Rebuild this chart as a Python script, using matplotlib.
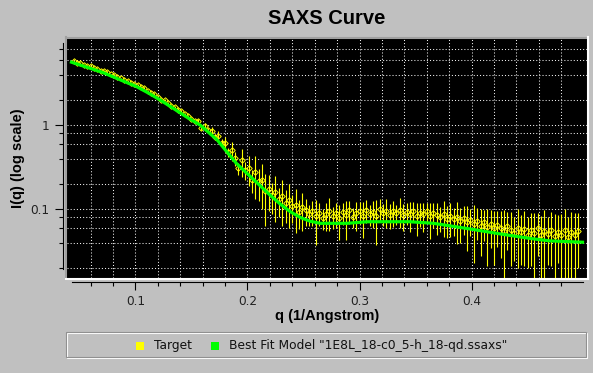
import matplotlib
matplotlib.use("Agg")
import matplotlib.pyplot as plt
from matplotlib.ticker import FixedLocator, NullFormatter, FixedFormatter
from matplotlib.lines import Line2D
from matplotlib.patches import Rectangle

# best fit model curve
fit_q = [0.043, 0.057, 0.071, 0.086, 0.101, 0.112, 0.122, 0.135, 0.147, 0.158,
         0.173, 0.190, 0.205, 0.220, 0.229, 0.238, 0.247, 0.256, 0.265, 0.289,
         0.307, 0.345, 0.366, 0.396, 0.425, 0.452, 0.470, 0.499]
fit_I = [5.62, 4.88, 4.23, 3.49, 2.88, 2.40, 2.00, 1.55, 1.22, 1.00,
         0.668, 0.353, 0.229, 0.148, 0.116, 0.094, 0.080, 0.072, 0.068, 0.068,
         0.071, 0.071, 0.068, 0.059, 0.051, 0.045, 0.042, 0.0405]

# target (experimental) curve
target_q = [
    0.045, 0.048, 0.051, 0.054, 0.057, 0.060, 0.063, 0.066, 0.069, 0.072,
    0.075, 0.078, 0.081, 0.084, 0.087, 0.090, 0.093, 0.096, 0.099, 0.102,
    0.105, 0.108, 0.111, 0.114, 0.117, 0.120, 0.123, 0.126, 0.129, 0.132,
    0.135, 0.138, 0.141, 0.144, 0.147, 0.150, 0.153, 0.156, 0.159, 0.162,
    0.165, 0.168, 0.171, 0.174, 0.177, 0.180, 0.183, 0.186, 0.189, 0.192,
    0.195, 0.198, 0.201, 0.204, 0.207, 0.210, 0.213, 0.216, 0.219, 0.222,
    0.225, 0.228, 0.231, 0.234, 0.237, 0.240, 0.243, 0.246, 0.249, 0.252,
    0.255, 0.258, 0.261, 0.264, 0.267, 0.270, 0.273, 0.276, 0.279, 0.282,
    0.285, 0.288, 0.291, 0.294, 0.297, 0.300, 0.303, 0.306, 0.309, 0.312,
    0.315, 0.318, 0.321, 0.324, 0.327, 0.330, 0.333, 0.336, 0.339, 0.342,
    0.345, 0.348, 0.351, 0.354, 0.357, 0.360, 0.363, 0.366, 0.369, 0.372,
    0.375, 0.378, 0.381, 0.384, 0.387, 0.390, 0.393, 0.396, 0.399, 0.402,
    0.405, 0.408, 0.411, 0.414, 0.417, 0.420, 0.423, 0.426, 0.429, 0.432,
    0.435, 0.438, 0.441, 0.444, 0.447, 0.450, 0.453, 0.456, 0.459, 0.462,
    0.465, 0.468, 0.471, 0.474, 0.477, 0.480, 0.483, 0.486, 0.489, 0.492,
    0.495]
target_I = [
    5.78, 5.56, 5.49, 5.17, 5.12, 5.06, 4.76, 4.72, 4.44, 4.38,
    4.26, 4.01, 3.98, 3.72, 3.61, 3.42, 3.38, 3.22, 3.08, 3.03,
    2.82, 2.75, 2.57, 2.39, 2.33, 2.17, 2.02, 2.00, 1.84, 1.71,
    1.66, 1.53, 1.48, 1.35, 1.29, 1.19, 1.12, 1.12, 0.934, 0.987,
    0.869, 0.856, 0.719, 0.741, 0.621, 0.607, 0.482, 0.500, 0.403, 0.306,
    0.383, 0.295, 0.310, 0.224, 0.281, 0.214, 0.222, 0.163, 0.175, 0.147,
    0.161, 0.131, 0.143, 0.118, 0.130, 0.109, 0.112, 0.0935, 0.105, 0.098,
    0.088, 0.094, 0.083, 0.091, 0.079, 0.087, 0.095, 0.082, 0.090, 0.078,
    0.092, 0.085, 0.097, 0.081, 0.089, 0.094, 0.084, 0.099, 0.088, 0.093,
    0.083, 0.102, 0.090, 0.096, 0.086, 0.094, 0.089, 0.097, 0.085, 0.092,
    0.088, 0.096, 0.084, 0.091, 0.087, 0.094, 0.082, 0.089, 0.085, 0.080,
    0.087, 0.077, 0.083, 0.076, 0.081, 0.072, 0.079, 0.070, 0.075, 0.067,
    0.073, 0.064, 0.070, 0.061, 0.067, 0.059, 0.065, 0.060, 0.055, 0.063,
    0.057, 0.052, 0.060, 0.054, 0.058, 0.050, 0.056, 0.052, 0.059, 0.049,
    0.055, 0.051, 0.057, 0.048, 0.054, 0.050, 0.056, 0.047, 0.053, 0.049,
    0.055]
target_err = [
    0.14, 0.13, 0.13, 0.12, 0.12, 0.12, 0.11, 0.11, 0.10, 0.10,
    0.10, 0.09, 0.09, 0.09, 0.08, 0.08, 0.08, 0.08, 0.07, 0.07,
    0.07, 0.07, 0.06, 0.06, 0.06, 0.06, 0.05, 0.06, 0.05, 0.05,
    0.05, 0.05, 0.05, 0.04, 0.05, 0.04, 0.04, 0.06, 0.05, 0.08,
    0.05, 0.09, 0.06, 0.11, 0.07, 0.12, 0.06, 0.13, 0.08, 0.05,
    0.14, 0.07, 0.12, 0.07, 0.15, 0.09, 0.12, 0.10, 0.08, 0.06,
    0.09, 0.05, 0.08, 0.05, 0.07, 0.04, 0.06, 0.035, 0.05, 0.035,
    0.025, 0.030, 0.045, 0.028, 0.022, 0.032, 0.040, 0.024, 0.030, 0.035,
    0.027, 0.042, 0.030, 0.022, 0.034, 0.028, 0.038, 0.030, 0.024, 0.033,
    0.045, 0.030, 0.026, 0.036, 0.028, 0.032, 0.024, 0.038, 0.030, 0.027,
    0.034, 0.025, 0.036, 0.029, 0.033, 0.026, 0.038, 0.030, 0.035, 0.027,
    0.040, 0.031, 0.036, 0.028, 0.042, 0.032, 0.030, 0.038, 0.027, 0.044,
    0.030, 0.036, 0.028, 0.040, 0.032, 0.037, 0.029, 0.034, 0.043, 0.030,
    0.036, 0.028, 0.040, 0.032, 0.037, 0.030, 0.035, 0.038, 0.031, 0.034,
    0.042, 0.029, 0.036, 0.040, 0.031, 0.037, 0.044, 0.033, 0.039, 0.042,
    0.035]

x_major = [0.1, 0.2, 0.3, 0.4]
x_major_labels = ["0.1", "0.2", "0.3", "0.4"]
x_minor = [0.06, 0.08, 0.12, 0.14, 0.16, 0.18, 0.22, 0.24, 0.26, 0.28,
           0.32, 0.34, 0.36, 0.38, 0.42, 0.44, 0.46, 0.48]
y_major = [0.1, 1]
y_major_labels = ["0.1", "1"]
y_minor = [0.02, 0.04, 0.06, 0.08, 0.2, 0.4, 0.6, 0.8, 2, 4, 6, 8]

W, H = 593, 373
bg = "#c0c0c0"


def fx(x):
    return x / W


def fy(y):
    return 1 - y / H


fig = plt.figure(figsize=(W / 100, H / 100), dpi=100, facecolor=bg)
ax = fig.add_axes([fx(67), fy(278), 520 / W, 240 / H])
ax.set_facecolor("black")

ax.errorbar(target_q, target_I, yerr=target_err, fmt="D", ms=2.8,
            mfc="none", mec="#ffff00", mew=0.7, ecolor="#ffff00",
            elinewidth=0.8, capsize=0, zorder=3)
ax.plot(fit_q, fit_I, color="#00ff00", lw=2.3, zorder=4)

ax.set_yscale("log")
ax.set_xlim(0.039, 0.503)
ax.set_ylim(0.0152, 10.9)

ax.xaxis.set_major_locator(FixedLocator(x_major))
ax.xaxis.set_major_formatter(FixedFormatter(x_major_labels))
ax.xaxis.set_minor_locator(FixedLocator(x_minor))
ax.xaxis.set_minor_formatter(NullFormatter())
ax.yaxis.set_major_locator(FixedLocator(y_major))
ax.yaxis.set_major_formatter(FixedFormatter(y_major_labels))
ax.yaxis.set_minor_locator(FixedLocator(y_minor))
ax.yaxis.set_minor_formatter(NullFormatter())

ax.grid(which="both", color="#f0f0f0", linestyle=(0, (1, 2)), linewidth=0.75)

for s in ["top", "right"]:
    ax.spines[s].set_visible(False)
ax.spines["left"].set_position(("outward", 3))
ax.spines["bottom"].set_position(("outward", 2.6))
ax.spines["left"].set_bounds(0.0195, 9.6)
ax.spines["bottom"].set_bounds(0.0435, 0.4995)
for s in ["left", "bottom"]:
    ax.spines[s].set_linewidth(0.8)
    ax.spines[s].set_color("black")

ax.tick_params(which="major", direction="out", length=5.5, width=0.8,
               labelsize=8.7, labelcolor="#222222", pad=4)
ax.tick_params(which="minor", direction="out", length=3, width=0.8)

# 3D-looking border around plot area
border = [((66, 588), (37.5, 37.5), "#a0a0a0"),
          ((66, 66), (37, 279), "#a0a0a0"),
          ((66, 588), (278.8, 278.8), "white"),
          ((587.7, 587.7), (37, 279), "white")]
for xs, ys, c in border:
    fig.add_artist(Line2D([fx(xs[0]), fx(xs[1])], [fy(ys[0]), fy(ys[1])],
                          color=c, lw=1.5, transform=fig.transFigure))

fig.text(fx(327), fy(18), "SAXS Curve", ha="center", va="center",
         fontsize=14.5, fontweight="bold", family="Liberation Sans")
fig.text(fx(327), fy(316), "q (1/Angstrom)", ha="center", va="center",
         fontsize=10.5, fontweight="bold", family="Liberation Sans")
fig.text(fx(18), fy(158), "I(q) (log scale)", ha="center", va="center",
         rotation=90, fontsize=10.5, fontweight="bold", family="Liberation Sans")

# legend box
fig.add_artist(Rectangle((fx(67), fy(358)), 520 / W, 25 / H, fill=False,
                         ec="white", lw=0.8, transform=fig.transFigure))
fig.add_artist(Rectangle((fx(66), fy(357)), 520 / W, 25 / H, fill=False,
                         ec="#909090", lw=0.8, transform=fig.transFigure))
legend_items = [(136, "#ffff00", "Target"),
                (211, "#00ff00", 'Best Fit Model "1E8L_18-c0_5-h_18-qd.ssaxs"')]
for x0, c, lab in legend_items:
    fig.add_artist(Rectangle((fx(x0), fy(350)), 8 / W, 8 / H, fc=c, ec="none",
                             transform=fig.transFigure))
    fig.text(fx(x0 + 18), fy(346), lab, ha="left", va="center",
             fontsize=8.8, color="#111111")

fig.savefig("out.png", dpi=100, facecolor=bg)
